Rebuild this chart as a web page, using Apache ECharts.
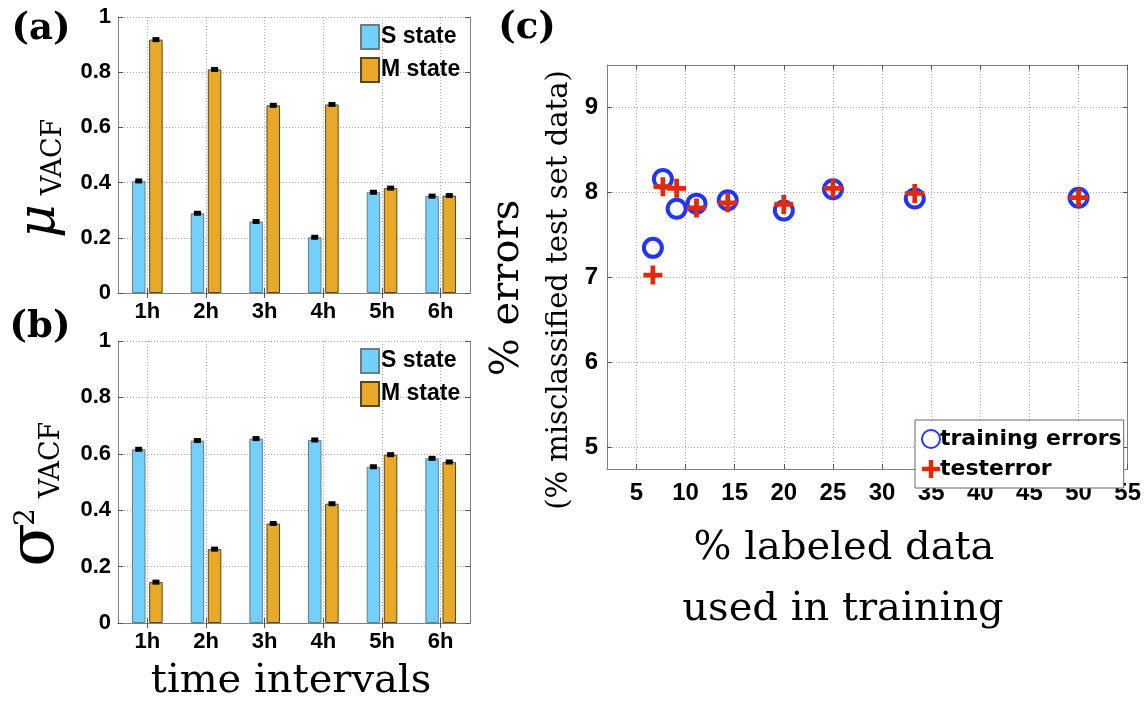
<!DOCTYPE html>
<html>
<head>
<meta charset="utf-8">
<script src="https://cdn.jsdelivr.net/npm/echarts@6/dist/echarts.min.js"></script>
<style>
  html, body { margin: 0; padding: 0; background: #fff; }
  #chart { width: 1144px; height: 704px; }
</style>
</head>
<body>
<div id="chart"></div>
<script>
// (a), (b): time intervals
const CATEGORIES = ["1h", "2h", "3h", "4h", "5h", "6h"];
const MU_S  = [0.406, 0.289, 0.259, 0.202, 0.365, 0.351];
const MU_M  = [0.918, 0.810, 0.680, 0.683, 0.380, 0.353];
const VAR_S = [0.616, 0.647, 0.654, 0.649, 0.554, 0.584];
const VAR_M = [0.145, 0.262, 0.353, 0.423, 0.597, 0.571];

// (c): % labeled data vs % errors
const LABELED_PCT = [6.67, 7.69, 9.09, 11.11, 14.29, 20, 25, 33.33, 50];
const TRAIN_ERR   = [7.35, 8.16, 7.81, 7.87, 7.91, 7.79, 8.04, 7.93, 7.94];
const TEST_ERR    = [7.03, 8.07, 8.05, 7.82, 7.88, 7.86, 8.05, 7.99, 7.94];
const PCT_TICKS = [5, 10, 15, 20, 25, 30, 35, 40, 45, 50, 55];
const ERR_TICKS = [5, 6, 7, 8, 9];

const CAT_POS = CATEGORIES.map((c, i) => i + 1);

const S_COLOR = "#72d0fb";
const M_COLOR = "#e8a82a";
const AXIS_GRAY = "#808080";
const GRID_LINE = { show: true, lineStyle: { type: [1, 2], color: "#a8a8a8", width: 1 } };
const TICK_FONT = { fontFamily: "Liberation Sans", fontWeight: "bold", color: "#000" };
const PLUS = "path://M3.75,0h2.5v3.75h3.75v2.5h-3.75v3.75h-2.5v-3.75h-3.75v-2.5h3.75z";

function xAxisPair(gridIndex, min, max, ticks, formatter, fontSize, margin) {
  const tick = { inside: true, length: 5, customValues: ticks, lineStyle: { color: "#555" } };
  return [
    { gridIndex, type: "value", position: "bottom", min, max,
      axisLine: { lineStyle: { color: AXIS_GRAY } }, axisTick: tick,
      axisLabel: { customValues: ticks, formatter, fontSize, margin, ...TICK_FONT },
      splitLine: GRID_LINE },
    { gridIndex, type: "value", position: "top", min, max,
      axisLine: { lineStyle: { color: AXIS_GRAY } }, axisTick: tick,
      axisLabel: { show: false }, splitLine: { show: false } },
  ];
}

function yAxisPair(gridIndex, min, max, ticks, fontSize, margin) {
  const tick = { inside: true, length: 5, customValues: ticks, lineStyle: { color: "#555" } };
  return [
    { gridIndex, type: "value", position: "left", min, max,
      axisLine: { show: true, lineStyle: { color: AXIS_GRAY } }, axisTick: { show: true, ...tick },
      axisLabel: { customValues: ticks, fontSize, margin, ...TICK_FONT },
      splitLine: GRID_LINE },
    { gridIndex, type: "value", position: "right", min, max,
      axisLine: { show: true, lineStyle: { color: AXIS_GRAY } }, axisTick: { show: true, ...tick },
      axisLabel: { show: false }, splitLine: { show: false } },
  ];
}

const BAR_TICKS = [0, 0.2, 0.4, 0.6, 0.8, 1];

function barSeries(axisIndex, sVals, mVals) {
  const common = { type: "bar", xAxisIndex: axisIndex, yAxisIndex: axisIndex,
                   barWidth: 13.5, barGap: "27%" };
  const err = (vals, dx) => ({
    type: "scatter", xAxisIndex: axisIndex, yAxisIndex: axisIndex, z: 5,
    symbol: "rect", symbolSize: [7, 5], symbolOffset: [dx, 0],
    itemStyle: { color: "#000", opacity: 1 }, silent: true,
    data: vals.map((v, i) => [CAT_POS[i], v]),
  });
  return [
    { ...common, name: "S state",
      itemStyle: { color: S_COLOR, borderColor: "#6a7c88", borderWidth: 1 },
      data: sVals.map((v, i) => [CAT_POS[i], v]) },
    { ...common, name: "M state",
      itemStyle: { color: M_COLOR, borderColor: "#5a4718", borderWidth: 1 },
      data: mVals.map((v, i) => [CAT_POS[i], v]) },
    err(sVals, -8.6),
    err(mVals, 8.6),
  ];
}

function barLegend(top) {
  return {
    data: ["S state", "M state"], orient: "vertical", left: 360, top,
    icon: "rect", itemWidth: 18, itemHeight: 24, itemGap: 7, padding: 0,
    selectedMode: false,
    textStyle: { fontFamily: "Liberation Sans", fontWeight: "bold", fontSize: 23, color: "#000", padding: [0, 0, 0, -3] },
  };
}

function label(text, x, y, font, rotate) {
  return {
    type: "text", x, y, rotation: rotate ? Math.PI / 2 : 0, silent: true,
    style: { text, font, fill: "#000", textAlign: "center", textVerticalAlign: "middle" },
  };
}

const chart = echarts.init(document.getElementById("chart"));
const catFmt = v => CATEGORIES[v - 1];

chart.setOption({
  animation: false,
  grid: [
    { left: 118, top: 17, width: 352, height: 276 },
    { left: 118, top: 341, width: 352, height: 282 },
    { left: 607, top: 65, width: 524, height: 404 },
  ],
  xAxis: [
    ...xAxisPair(0, 0.5, 6.5, CAT_POS, catFmt, 22, 8),
    ...xAxisPair(1, 0.5, 6.5, CAT_POS, catFmt, 22, 8),
    ...xAxisPair(2, 2, 55, PCT_TICKS, null, 24, 12),
  ],
  yAxis: [
    ...yAxisPair(0, 0, 1, BAR_TICKS, 22, 7),
    ...yAxisPair(1, 0, 1, BAR_TICKS, 22, 7),
    ...yAxisPair(2, 4.75, 9.5, ERR_TICKS, 24, 9),
  ],
  legend: [
    barLegend(24),
    barLegend(348),
    { data: ["training errors", "testerror"], orient: "vertical", left: 915, top: 420,
      itemWidth: 18, itemHeight: 18, itemGap: 8, padding: [8, 2, 8, 6],
      borderColor: "#666", borderWidth: 1, backgroundColor: "#fff", selectedMode: false,
      textStyle: { fontFamily: "DejaVu Sans", fontWeight: "bold", fontSize: 22, color: "#000", padding: [0, 0, 0, -5] } },
  ],
  series: [
    ...barSeries(0, MU_S, MU_M),
    ...barSeries(2, VAR_S, VAR_M),
    { name: "training errors", type: "scatter", xAxisIndex: 4, yAxisIndex: 4,
      symbol: "circle", symbolSize: 18,
      itemStyle: { color: "rgba(255,255,255,0)", borderColor: "#2236f8", borderWidth: 4, opacity: 1 },
      data: LABELED_PCT.map((x, i) => [x, TRAIN_ERR[i]]) },
    { name: "testerror", type: "scatter", xAxisIndex: 4, yAxisIndex: 4, z: 3,
      symbol: PLUS, symbolSize: 19,
      itemStyle: { color: "#e02a08", opacity: 1 },
      data: LABELED_PCT.map((x, i) => [x, TEST_ERR[i]]) },
  ],
  graphic: [
    label("(a)", 41, 29, 'bold 37px "DejaVu Serif"'),
    label("(b)", 40, 327, 'bold 37px "DejaVu Serif"'),
    label("(c)", 527, 28, 'bold 37px "DejaVu Serif"'),
    label("μ", 40, 221, 'italic 52px "DejaVu Serif"', true),
    label("VACF", 54, 157, '27px "DejaVu Serif"', true),
    label("σ", 36, 545, '64px "DejaVu Serif"', true),
    label("2", 27, 517, '28px "DejaVu Serif"', true),
    label("VACF", 52, 460, '27px "DejaVu Serif"', true),
    label("time intervals", 291, 682, '40px "DejaVu Serif"'),
    label("% errors", 508, 288, '40px "DejaVu Serif"', true),
    label("(% misclassified test set data)", 559, 290, '29px "DejaVu Serif"', true),
    label("% labeled data", 844, 549, '40px "DejaVu Serif"'),
    label("used in training", 843, 610, '40px "DejaVu Serif"'),
  ],
});
</script>
</body>
</html>
